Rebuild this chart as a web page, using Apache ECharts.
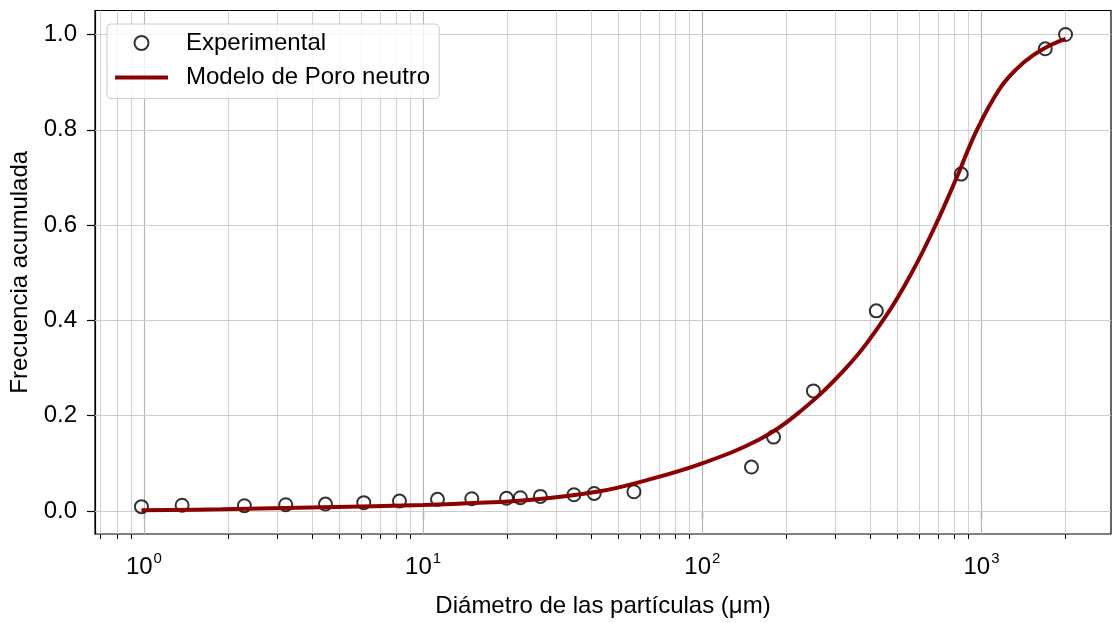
<!DOCTYPE html>
<html><head><meta charset="utf-8">
<script src="https://cdn.jsdelivr.net/npm/echarts@6/dist/echarts.min.js"></script>
<style>html,body{margin:0;padding:0;background:#fff}#c{width:1112px;height:623px}</style>
</head><body><div id="c"></div>
<script>
const expX = [0.98, 1.37, 2.29, 3.22, 4.47, 6.13, 8.23, 11.26, 14.94, 19.9, 22.3, 26.3, 34.7, 41.0, 56.9, 150, 180, 250, 420, 846, 1692, 2000];
const expY = [0.009, 0.012, 0.011, 0.013, 0.0145, 0.0174, 0.0208, 0.0243, 0.0257, 0.0265, 0.0278, 0.0305, 0.034, 0.0367, 0.0403, 0.0921, 0.155, 0.252, 0.420, 0.707, 0.970, 1.000];
const modelX = [0.98, 1.9, 4.4, 10, 16, 25, 43, 60, 100, 160, 215, 325, 450, 565, 685, 815, 963, 1161, 1332, 1528, 1753, 2000];
const modelY = [0.0015, 0.0035, 0.0077, 0.0125, 0.017, 0.024, 0.0415, 0.061, 0.100, 0.150, 0.200, 0.298, 0.405, 0.502, 0.600, 0.700, 0.800, 0.886, 0.927, 0.956, 0.977, 0.991];
const xMajorTicks = [1, 10, 100, 1000];
const xMinorTicks = [0.7, 0.8, 0.9, 2, 3, 4, 5, 6, 7, 8, 9, 20, 30, 40, 50, 60, 70, 80, 90, 200, 300, 400, 500, 600, 700, 800, 900, 2000];
const yTicks = [0, 0.2, 0.4, 0.6, 0.8, 1.0];

const FONT = '"Liberation Sans", Arial, Helvetica, sans-serif';
const chart = echarts.init(document.getElementById('c'), null, {renderer: 'canvas'});
const gridLines = [].concat(
  xMinorTicks.map(v => ({xAxis: v, lineStyle: {color: '#d2d2d2'}})),
  xMajorTicks.map(v => ({xAxis: v, lineStyle: {color: '#b4b4b4'}})),
  yTicks.map(v => ({yAxis: v, lineStyle: {color: '#cccccc'}}))
);
const xCommon = {type: 'log', logBase: 10, min: 0.668, max: 2910, gridIndex: 0, position: 'bottom', splitLine: {show: false}, minorTick: {show: false}, minorSplitLine: {show: false}};
chart.setOption({
  animation: false,
  backgroundColor: '#fff',
  grid: {left: 95, right: 1, top: 10.5, bottom: 83, show: true, borderColor: '#000', borderWidth: 1.2, backgroundColor: 'transparent'},
  legend: {
    left: 107, top: 24, orient: 'vertical', padding: [6, 9, 8, 8], itemWidth: 53, itemHeight: 14, itemGap: 8.6,
    backgroundColor: 'rgba(255,255,255,0.8)', borderColor: '#cccccc', borderWidth: 1, borderRadius: 4,
    textStyle: {fontSize: 24, fontFamily: FONT, color: '#000', lineHeight: 26, padding: [0, 0, 0, 13]},
    data: [
      {name: 'Experimental'},
      {name: 'Modelo de Poro neutro', icon: 'path://M0,0L53,0L53,4L0,4Z', itemStyle: {color: '#8b0000', borderWidth: 0}}
    ]
  },
  xAxis: [
    Object.assign({}, xCommon, {
      name: 'Diámetro de las partículas (μm)', nameLocation: 'middle', nameGap: 60,
      nameTextStyle: {fontSize: 24, fontFamily: FONT, color: '#000'},
      axisLine: {show: true, lineStyle: {color: '#000', width: 1.2}},
      axisTick: {show: true, customValues: xMajorTicks, length: 8, lineStyle: {color: '#000', width: 1.2}},
      axisLabel: {show: true, customValues: xMajorTicks, margin: 17,
        formatter: v => '{b|10}{s|' + Math.round(Math.log10(v)) + '}',
        rich: {b: {fontSize: 24, fontFamily: FONT, color: '#000'}, s: {fontSize: 15, fontFamily: FONT, color: '#000', padding: [0, 0, 17, 1]}}}
    }),
    Object.assign({}, xCommon, {
      axisLine: {show: false},
      axisTick: {show: true, customValues: xMinorTicks, length: 5, lineStyle: {color: '#000', width: 1}},
      axisLabel: {show: false}
    })
  ],
  yAxis: {
    type: 'value', min: -0.0484, max: 1.0504,
    name: 'Frecuencia acumulada', nameLocation: 'middle', nameGap: 63,
    nameTextStyle: {fontSize: 24, fontFamily: FONT, color: '#000'},
    axisLine: {show: true, lineStyle: {color: '#000', width: 1.2}},
    axisTick: {show: true, customValues: yTicks, length: 8, lineStyle: {color: '#000', width: 1.2}},
    axisLabel: {show: true, customValues: yTicks, margin: 18, fontSize: 24, fontFamily: FONT, color: '#000', formatter: v => v.toFixed(1)},
    splitLine: {show: false}
  },
  series: [
    {
      name: 'Experimental', type: 'scatter', xAxisIndex: 0, z: 2,
      data: expX.map((x, i) => [x, expY[i]]),
      symbol: 'circle', symbolSize: 13,
      itemStyle: {color: 'rgba(255,255,255,0)', borderColor: '#000', borderWidth: 2},
      markLine: {silent: true, z: 1, symbol: ['none', 'none'], label: {show: false}, emphasis: {disabled: true},
        lineStyle: {type: 'solid', width: 1.1}, data: gridLines}
    },
    {
      name: 'Modelo de Poro neutro', type: 'line', xAxisIndex: 0, z: 3,
      data: modelX.map((x, i) => [x, modelY[i]]),
      symbol: 'none', showSymbol: false, smooth: 0.4,
      lineStyle: {color: '#8b0000', width: 4}, itemStyle: {color: '#8b0000'}
    }
  ]
});
</script></body></html>
